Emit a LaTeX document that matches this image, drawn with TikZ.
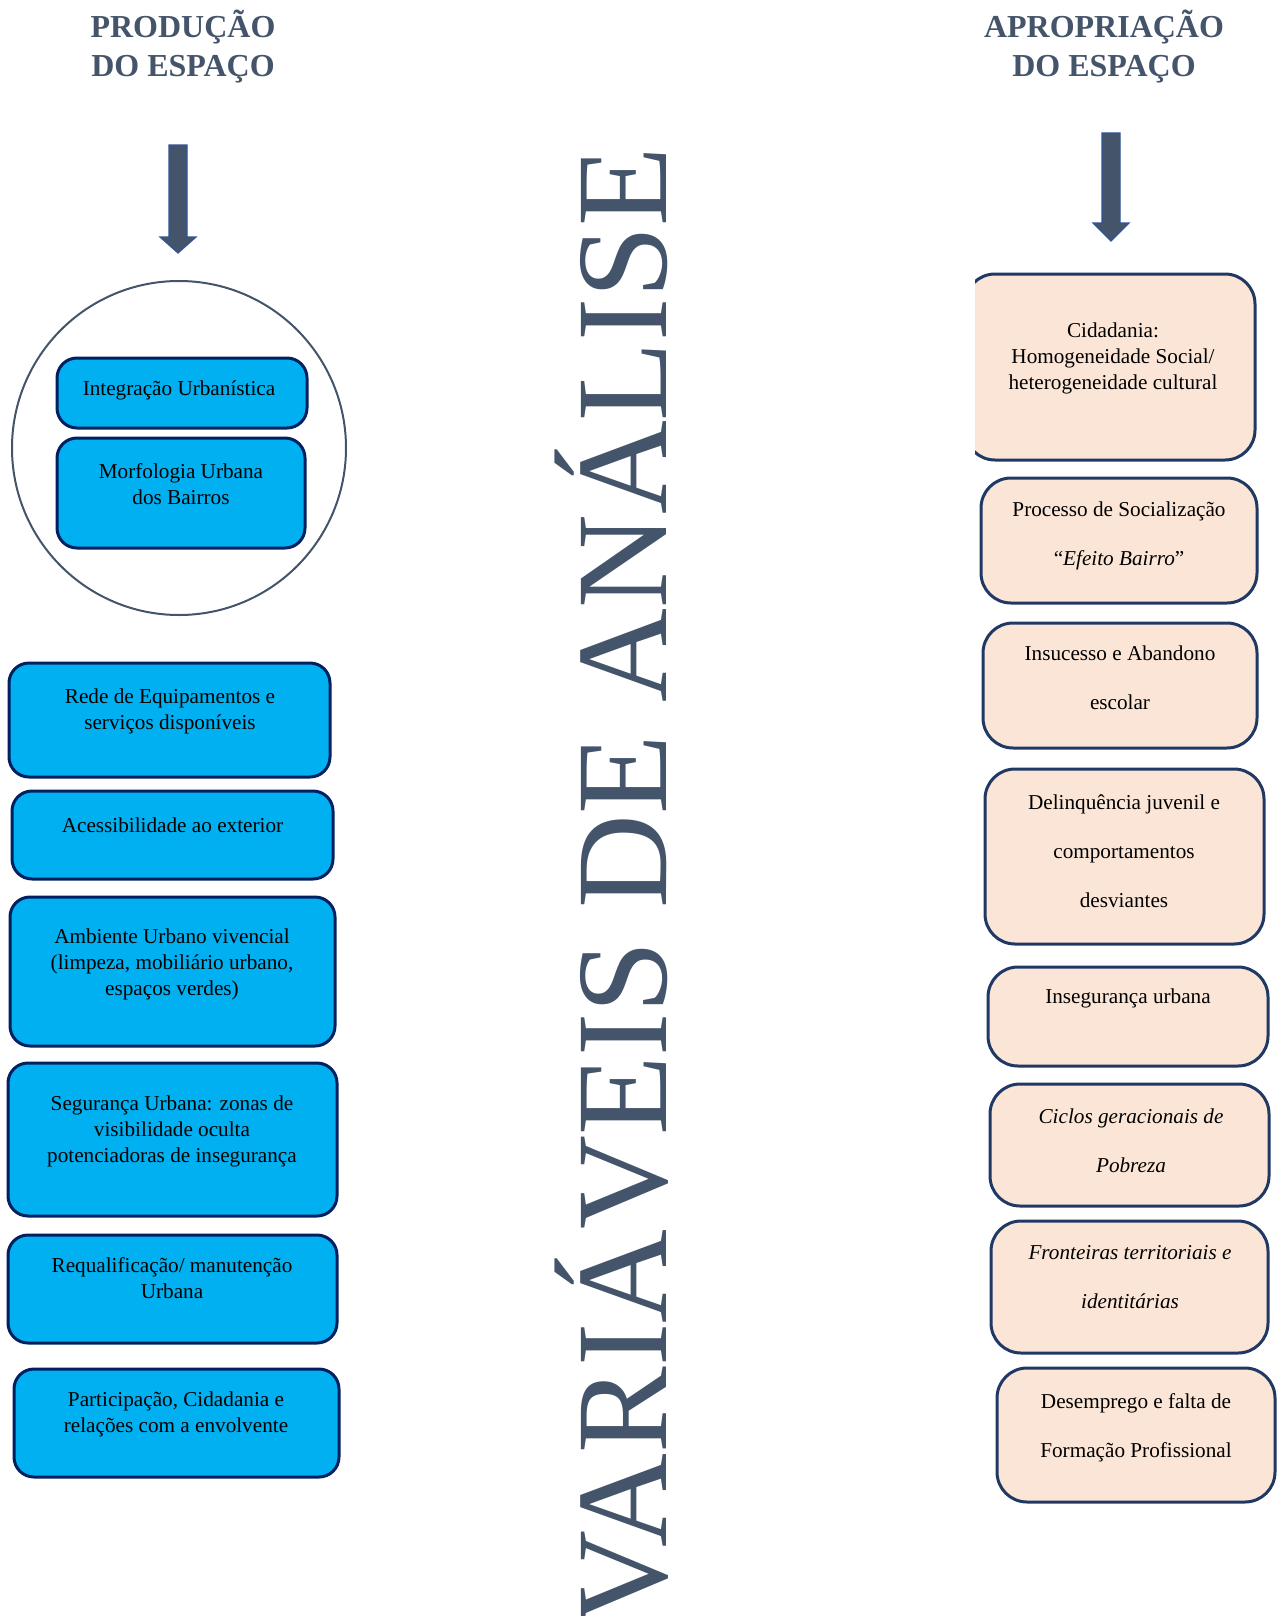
\documentclass[tikz,border=0pt]{standalone}
\usepackage{fontspec}
\setmainfont{Liberation Serif}
\definecolor{slate}{HTML}{44546A}
\definecolor{navy}{HTML}{002060}
\definecolor{rnavy}{HTML}{1F3864}
\definecolor{cyanfill}{HTML}{00B0F0}
\definecolor{peach}{HTML}{FBE5D6}
\definecolor{arrowedge}{HTML}{2F5597}
\begin{document}
\begin{tikzpicture}[x=0.5pt,y=-0.5pt,
 lbox/.style={draw=navy, line width=1.5pt, fill=cyanfill, rounded corners=10pt, inner sep=0pt, rectangle},
 rbox/.style={draw=rnavy, line width=1.5pt, fill=peach, rounded corners=15pt, inner sep=0pt, rectangle},
 txt/.style={font=\fontsize{10.6}{13}\selectfont, align=center, inner sep=0pt, anchor=base},
 dtxt/.style={font=\fontsize{10.6}{24.5}\selectfont, align=center, inner sep=0pt, anchor=base},
 head/.style={font=\bfseries\fontsize{16}{20}\selectfont, text=slate, align=center, inner sep=0pt, anchor=base},
 blockarrow/.style={fill=slate, draw=arrowedge, line width=0.6pt}
]
\useasboundingbox (0,0) rectangle (1277,1616);

% headers (anchor base = last line)
\node[head] (hprod) at (183,77) {PRODUÇÃO\\DO ESPAÇO};
\node[head] (haprop) at (1104,77) {APROPRIAÇÃO\\DO ESPAÇO};

% block arrows
\draw[blockarrow] (169,145) -- (187,145) -- (187,237) -- (196,237) -- (178,253) -- (160,237) -- (169,237) -- cycle;
\draw[blockarrow] (1102,133) -- (1120,133) -- (1120,223) -- (1129,223) -- (1111,241) -- (1093,223) -- (1102,223) -- cycle;

% vertical title
\node[rotate=90, anchor=base west, inner sep=0pt, text=slate, font=\fontsize{65}{65}\selectfont] (vtitle) at (666,1625) {VARIÁVEIS DE ANÁLISE};

% circle group
\node[circle, draw=slate, line width=1pt, minimum size=167pt, inner sep=0pt] (circ) at (179,448) {};
\node[lbox, minimum width=125pt, minimum height=35pt] (integ) at (182,393) {};
\node[txt] (tinteg) at (179,395) {Integração Urbanística};
\node[lbox, minimum width=124pt, minimum height=55pt] (morf) at (181,493) {};
\node[txt] (tmorf) at (181,504) {Morfologia Urbana\\dos Bairros};

% left boxes
\node[lbox, minimum width=160.5pt, minimum height=57pt] (rede) at (169.5,720) {};
\node[txt] (trede) at (170,729) {Rede de Equipamentos e\\serviços disponíveis};
\node[lbox, minimum width=160.5pt, minimum height=44pt] (acess) at (172.5,835) {};
\node[txt] (tacess) at (172.5,832) {Acessibilidade ao exterior};
\node[lbox, minimum width=162.5pt, minimum height=74.5pt] (amb) at (172.5,971.5) {};
\node[txt] (tamb) at (172,995) {Ambiente Urbano vivencial\\(limpeza, mobiliário urbano,\\espaços verdes)};
\node[lbox, minimum width=164.5pt, minimum height=76.5pt] (seg) at (172.5,1139.5) {};
\node[txt] (tseg) at (172,1162) {Segurança Urbana: zonas de\\visibilidade oculta\\potenciadoras de insegurança};
\node[lbox, minimum width=164.5pt, minimum height=54pt] (requal) at (172.5,1289) {};
\node[txt] (trequal) at (172,1298) {Requalificação/ manutenção\\Urbana};
\node[lbox, minimum width=162.5pt, minimum height=54pt] (part) at (176.5,1423) {};
\node[txt] (tpart) at (176,1432) {Participação, Cidadania e\\relações com a envolvente};

% right boxes
\begin{scope}
\clip (975,260) rectangle (1277,470);
\node[rbox, minimum width=145pt, minimum height=93pt] (cid) at (1110,367) {};
\end{scope}
\node[txt] (tcid) at (1113,389) {Cidadania:\\Homogeneidade Social/\\heterogeneidade cultural};
\node[rbox, minimum width=138pt, minimum height=62.5pt] (proc) at (1119,540.5) {};
\node[dtxt] (tproc) at (1119,565) {Processo de Socialização\\“\textit{Efeito Bairro}”};
\node[rbox, minimum width=137pt, minimum height=62.5pt] (insuc) at (1120,685.5) {};
\node[dtxt] (tinsuc) at (1120,709) {Insucesso e Abandono\\escolar};
\node[rbox, minimum width=139.5pt, minimum height=87.5pt] (delinq) at (1124.5,856.5) {};
\node[dtxt] (tdelinq) at (1124,907) {Delinquência juvenil e\\comportamentos\\desviantes};
\node[rbox, minimum width=140pt, minimum height=49.5pt] (inseg) at (1128,1016.5) {};
\node[txt] (tinseg) at (1128,1003) {Insegurança urbana};
\node[rbox, minimum width=139.5pt, minimum height=61pt] (ciclos) at (1129.5,1145) {};
\node[dtxt, font=\itshape\fontsize{10.6}{24.5}\selectfont] (tciclos) at (1131,1172) {Ciclos geracionais de\\Pobreza};
\node[rbox, minimum width=138.5pt, minimum height=66pt] (front) at (1129.5,1287) {};
\node[dtxt, font=\itshape\fontsize{10.6}{24.5}\selectfont] (tfront) at (1130,1308) {Fronteiras territoriais e\\identitárias};
\node[rbox, minimum width=139pt, minimum height=67pt] (desemp) at (1136,1435) {};
\node[dtxt] (tdesemp) at (1136,1457) {Desemprego e falta de\\Formação Profissional};
\end{tikzpicture}
\end{document}
